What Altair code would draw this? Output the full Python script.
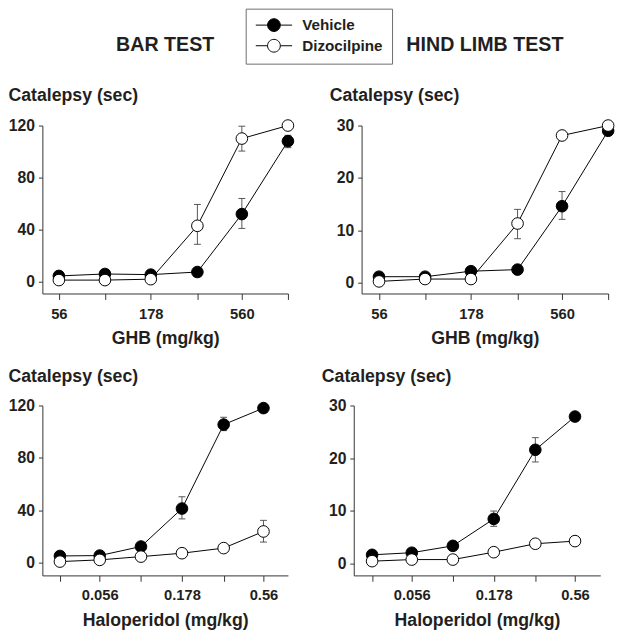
import altair as alt
import pandas as pd

FONT = "Liberation Sans"
INK = "#231f20"

SERIES = ["Vehicle", "Dizocilpine"]
SERIES_FILL = ["#000000", "#ffffff"]

GHB_DOSES = [56, 100, 178, 320, 560, 1000]
GHB_TICK_TEXT = ["56", "", "178", "", "560", ""]
HAL_DOSES = [0.032, 0.056, 0.1, 0.178, 0.32, 0.56]
HAL_TICK_TEXT = ["", "0.056", "", "0.178", "", "0.56"]

BAR_Y_TICKS = [0, 40, 80, 120]
HL_Y_TICKS = [0, 10, 20, 30]

# Bar test, GHB
BAR_GHB_VEH = [4.5, 6.0, 5.5, 7.5, 52, 108]
BAR_GHB_DIZ = [1.3, 1.3, 2.0, 43, 110, 120]
BAR_GHB_ERR = [("Vehicle", 560, 41, 64), ("Vehicle", 1000, 103, 112.5),
               ("Dizocilpine", 320, 28.8, 59.4), ("Dizocilpine", 560, 100.4, 119.5)]
# Hind limb test, GHB
HL_GHB_VEH = [1.15, 1.15, 2.2, 2.5, 14.6, 29.0]
HL_GHB_DIZ = [0.25, 0.7, 0.7, 11.3, 28.1, 30.0]
HL_GHB_ERR = [("Vehicle", 560, 12.1, 17.4), ("Dizocilpine", 320, 8.4, 14.0)]
# Bar test, haloperidol
BAR_HAL_VEH = [5.1, 5.4, 12.3, 41.3, 105.4, 118]
BAR_HAL_DIZ = [0.8, 2.1, 4.6, 7.2, 11.1, 23.8]
BAR_HAL_ERR = [("Vehicle", 0.178, 33.4, 50.3), ("Vehicle", 0.32, 100.8, 111),
               ("Dizocilpine", 0.56, 15.7, 32.3)]
# Hind limb test, haloperidol
HL_HAL_VEH = [1.7, 2.1, 3.4, 8.5, 21.6, 27.9]
HL_HAL_DIZ = [0.5, 0.8, 0.8, 2.2, 3.8, 4.3]
HL_HAL_ERR = [("Vehicle", 0.178, 7.1, 10.0), ("Vehicle", 0.32, 19.3, 23.9)]

LEGEND_SYMBOL = "M-1,0L0.846,0M2.846,0L4.69,0M2.846,0A1,1,0,1,1,0.846,0A1,1,0,1,1,2.846,0Z"


def label_expr(values, texts):
    parts = [f"datum.value == {v} ? '{t}'" for v, t in zip(values, texts) if t]
    return " : ".join(parts) + " : ''"


def panel(doses, veh, diz, err, tick_text, xdom, ydom, yticks, w, h,
          title, xtitle, tx, ty):
    df = pd.DataFrame({
        "dose": doses + doses,
        "value": veh + diz,
        "series": [SERIES[0]] * len(doses) + [SERIES[1]] * len(doses),
    })
    edf = pd.DataFrame(err, columns=["series", "dose", "value", "hi"])
    cap_df = pd.concat([
        edf[["dose", "value"]],
        edf[["dose", "hi"]].rename(columns={"hi": "value"}),
    ])
    x = alt.X("dose:Q",
              scale=alt.Scale(type="log", domain=xdom, nice=False),
              axis=alt.Axis(values=doses, labelExpr=label_expr(doses, tick_text),
                            title=xtitle, tickSize=6, labelPadding=7,
                            titlePadding=9, labelFontSize=15, grid=False))
    y = alt.Y("value:Q",
              scale=alt.Scale(domain=ydom, nice=False, zero=False),
              axis=alt.Axis(values=yticks, title="Catalepsy (sec)", titleAngle=0,
                            titleAlign="left", titleBaseline="middle",
                            titleX=tx, titleY=ty, tickSize=4, labelPadding=4,
                            labelFontSize=16, grid=False))
    line = alt.Chart(df).mark_line(color="black", strokeWidth=1).encode(
        x=x, y=y, detail="series:N")
    rule = alt.Chart(edf).mark_rule(color="#555", strokeWidth=1).encode(
        x=x, y=y, y2=alt.Y2("hi:Q"))
    caps = alt.Chart(cap_df).mark_tick(orient="horizontal", size=7, thickness=1,
                                       color="#555", opacity=1).encode(x=x, y=y)
    pts = alt.Chart(df).mark_point(shape="circle", filled=True, size=140,
                                   stroke="black", strokeWidth=1, opacity=1).encode(
        x=x, y=y,
        fill=alt.Fill("series:N",
                      scale=alt.Scale(domain=SERIES, range=SERIES_FILL),
                      legend=alt.Legend(
                          title=None, orient="none", legendX=207, legendY=-119,
                          direction="vertical", symbolType=LEGEND_SYMBOL,
                          symbolSize=169, symbolStrokeColor="black",
                          symbolStrokeWidth=1, symbolOpacity=1,
                          labelFont=FONT, labelFontSize=15.5,
                          labelFontWeight="bold", labelColor=INK,
                          labelOffset=33, rowPadding=3, padding=9,
                          strokeColor="#6d6d6d", fillColor="white")),
    )
    props = dict(width=w, height=h)
    if title:
        props["title"] = alt.TitleParams(title, anchor="middle", frame="group",
                                         offset=32, fontSize=20, font=FONT,
                                         fontWeight="bold", color=INK)
    return alt.layer(line, rule, caps, pts).properties(**props)


tl = panel(GHB_DOSES, BAR_GHB_VEH, BAR_GHB_DIZ, BAR_GHB_ERR, GHB_TICK_TEXT,
           [45.5, 1000], [-9, 120], BAR_Y_TICKS, 250, 171,
           "BAR TEST", "GHB (mg/kg)", -35, -30.5)
tr = panel(GHB_DOSES, HL_GHB_VEH, HL_GHB_DIZ, HL_GHB_ERR, GHB_TICK_TEXT,
           [45, 1000], [-2.06, 30], HL_Y_TICKS, 251, 171,
           "HIND LIMB TEST", "GHB (mg/kg)", -33, -30.5)
bl = panel(HAL_DOSES, BAR_HAL_VEH, BAR_HAL_DIZ, BAR_HAL_ERR, HAL_TICK_TEXT,
           [0.025, 0.79], [-9.75, 120], BAR_Y_TICKS, 250, 173,
           None, "Haloperidol (mg/kg)", -35, -29)
br = panel(HAL_DOSES, HL_HAL_VEH, HL_HAL_DIZ, HL_HAL_ERR, HAL_TICK_TEXT,
           [0.0247, 0.8], [-2.2, 30], HL_Y_TICKS, 251, 173,
           None, "Haloperidol (mg/kg)", -33, -29)

chart = alt.vconcat(
    alt.hconcat(tl, tr, spacing=34),
    alt.hconcat(bl, br, spacing=34),
    spacing=21,
).properties(
    padding={"top": -6, "left": 0, "right": 0, "bottom": 0}
).configure_view(stroke=None).configure_axis(
    labelFont=FONT, labelFontWeight="bold", labelColor=INK,
    titleFont=FONT, titleFontWeight="bold", titleFontSize=18, titleColor=INK,
    domainColor="#333", tickColor="#333", domainWidth=1, tickWidth=1,
)

chart.save("out.html", embed_options={"renderer": "svg", "actions": False})
